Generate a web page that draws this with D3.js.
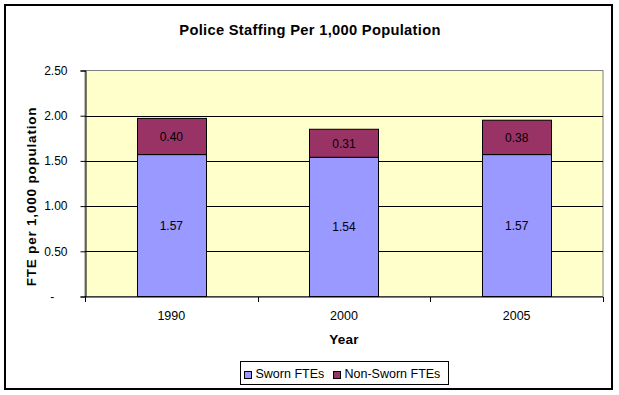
<!DOCTYPE html>
<meta charset="utf-8">
<head>
<title>Police Staffing</title>
<style>
  body { margin: 0; background: #fff; }
  text { font-family: Arial, "Liberation Sans", sans-serif; }
</style>
</head>
<body>
<div id="chart"></div>
<script src="https://d3js.org/d3.v7.min.js"></script>
<script>

// data
var years = ["1990", "2000", "2005"];
var sworn = [1.57, 1.54, 1.57];
var nonSworn = [0.40, 0.31, 0.38];
var yTicks = [0, 0.5, 1.0, 1.5, 2.0, 2.5];
var seriesNames = ["Sworn FTEs", "Non-Sworn FTEs"];

var swornColor = "#9999FF",
    nonSwornColor = "#993366",
    plotBg = "#FFFFCC";

var W = 619, H = 395;
var plot = {left: 85, top: 70.5, right: 603, bottom: 296.5};

var svg = d3.select("#chart").append("svg")
    .attr("width", W)
    .attr("height", H);

// outer chart border
svg.append("rect")
    .attr("x", 5).attr("y", 5)
    .attr("width", 607).attr("height", 384)
    .attr("fill", "#fff")
    .attr("stroke", "#000")
    .attr("stroke-width", 2);

// title
svg.append("text")
    .attr("x", 310).attr("y", 34.5)
    .attr("text-anchor", "middle")
    .style("font-weight", "bold")
    .style("font-size", "14.7px")
    .style("letter-spacing", "0.3px")
    .text("Police Staffing Per 1,000 Population");

var x = d3.scaleBand()
    .domain(years)
    .range([plot.left, plot.right])
    .paddingInner(0)
    .paddingOuter(0);

var y = d3.scaleLinear()
    .domain([0, 2.5])
    .range([plot.bottom, plot.top]);

// plot area
svg.append("rect")
    .attr("x", plot.left).attr("y", plot.top)
    .attr("width", plot.right - plot.left)
    .attr("height", plot.bottom - plot.top)
    .attr("fill", plotBg)
    .attr("stroke", "#808080")
    .attr("stroke-width", 1);

// gridlines
svg.append("g")
    .selectAll("line")
    .data(yTicks.filter(function(d) { return d > 0 && d < 2.5; }))
    .enter().append("line")
    .attr("x1", plot.left).attr("x2", plot.right)
    .attr("y1", function(d) { return Math.round(y(d)) + 0.5; })
    .attr("y2", function(d) { return Math.round(y(d)) + 0.5; })
    .attr("stroke", "#000");

// stacked bars
var barW = x.bandwidth() * 0.4;
var bars = svg.append("g");
years.forEach(function(yr, i) {
    var cx = x(yr) + x.bandwidth() / 2;
    var stack = [
        {v0: 0, v1: sworn[i], val: sworn[i], color: swornColor},
        {v0: sworn[i], v1: sworn[i] + nonSworn[i], val: nonSworn[i], color: nonSwornColor}
    ];
    stack.forEach(function(s) {
        bars.append("rect")
            .attr("x", Math.round(cx - barW / 2) + 0.5)
            .attr("y", y(s.v1))
            .attr("width", Math.round(barW))
            .attr("height", y(s.v0) - y(s.v1))
            .attr("fill", s.color)
            .attr("stroke", "#000")
            .attr("stroke-width", 1);
        bars.append("text")
            .attr("x", cx)
            .attr("y", (y(s.v0) + y(s.v1)) / 2 + 4.5)
            .attr("text-anchor", "middle")
            .style("font-size", "12px")
            .text(s.val.toFixed(2));
    });
});

// y axis
var yAxis = svg.append("g")
    .attr("transform", "translate(" + (plot.left + 0.5) + ",0)")
    .call(d3.axisLeft(y).tickValues(yTicks).tickSize(5).tickPadding(13)
        .tickFormat(function(d) { return d === 0 ? "-\u2007\u2007" : d3.format(".2f")(d); }));
yAxis.select(".domain").attr("stroke", "#000");
yAxis.selectAll(".tick line").attr("stroke", "#000");
yAxis.selectAll("text")
    .style("font-size", "12px")
    .style("font-family", "Arial, 'Liberation Sans', sans-serif")
    .attr("fill", "#000");

// x axis (ticks between categories)
var xAxis = svg.append("g")
    .attr("transform", "translate(0," + (plot.bottom + 0.5) + ")");
xAxis.append("line")
    .attr("x1", plot.left).attr("x2", plot.right)
    .attr("stroke", "#000");
xAxis.selectAll(".sep")
    .data(years.map(function(d) { return x(d); }).concat([plot.right]))
    .enter().append("line")
    .attr("x1", function(d) { return Math.round(d) + 0.5; })
    .attr("x2", function(d) { return Math.round(d) + 0.5; })
    .attr("y1", 0).attr("y2", 5)
    .attr("stroke", "#000");
xAxis.selectAll(".lbl")
    .data(years)
    .enter().append("text")
    .attr("x", function(d) { return x(d) + x.bandwidth() / 2; })
    .attr("y", 22.5)
    .attr("text-anchor", "middle")
    .style("font-size", "12.5px")
    .text(function(d) { return d; });

// axis titles
svg.append("text")
    .attr("x", (plot.left + plot.right) / 2)
    .attr("y", 344)
    .attr("text-anchor", "middle")
    .style("font-weight", "bold")
    .style("font-size", "13.5px")
    .style("letter-spacing", "0.3px")
    .text("Year");

svg.append("text")
    .attr("transform", "translate(36," + ((plot.top + plot.bottom) / 2 + 13) + ") rotate(-90)")
    .attr("text-anchor", "middle")
    .style("font-weight", "bold")
    .style("font-size", "13.5px")
    .style("letter-spacing", "0.8px")
    .text("FTE per 1,000 population");

// legend
var legend = svg.append("g").attr("transform", "translate(240.5,361.5)");
legend.append("rect")
    .attr("width", 208).attr("height", 23)
    .attr("fill", "#fff")
    .attr("stroke", "#000");
var legX = [4, 93];
seriesNames.forEach(function(name, i) {
    legend.append("rect")
        .attr("x", legX[i]).attr("y", 10)
        .attr("width", 7).attr("height", 7)
        .attr("fill", i === 0 ? swornColor : nonSwornColor)
        .attr("stroke", "#000");
    legend.append("text")
        .attr("x", legX[i] + 11).attr("y", 16.5)
        .style("font-size", "12.5px")
        .text(name);
});

</script>
</body>
